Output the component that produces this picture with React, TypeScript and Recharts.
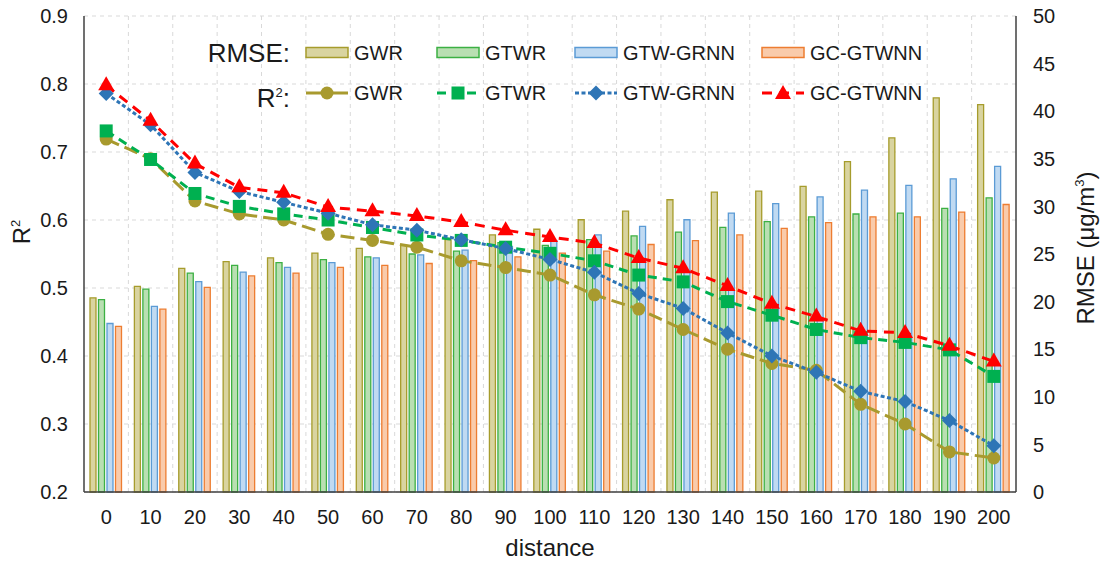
import React from 'react';
import { ComposedChart, Bar, Line, XAxis, YAxis, CartesianGrid } from 'recharts';

// distance thresholds on the x axis
const distances = ['0', '10', '20', '30', '40', '50', '60', '70', '80', '90', '100', '110', '120', '130', '140', '150', '160', '170', '180', '190', '200'];

// RMSE (μg/m³), right axis
const rmseGWR = [20.4, 21.6, 23.5, 24.2, 24.6, 25.1, 25.6, 25.9, 26.5, 27.0, 27.6, 28.6, 29.5, 30.7, 31.5, 31.6, 32.1, 34.7, 37.2, 41.4, 40.7];
const rmseGTWR = [20.2, 21.3, 23.0, 23.8, 24.1, 24.4, 24.7, 25.0, 25.3, 26.2, 25.9, 26.5, 26.9, 27.3, 27.8, 28.4, 28.9, 29.2, 29.3, 29.8, 30.9];
const rmseGTWGRNN = [17.7, 19.5, 22.1, 23.1, 23.6, 24.1, 24.6, 24.9, 25.4, 25.8, 26.4, 27.0, 27.9, 28.6, 29.3, 30.3, 31.0, 31.7, 32.2, 32.9, 34.2];
const rmseGCGTWNN = [17.4, 19.2, 21.5, 22.7, 23.0, 23.6, 23.8, 24.0, 24.3, 24.7, 25.1, 25.3, 26.0, 26.4, 27.0, 27.7, 28.3, 28.9, 28.9, 29.4, 30.2];

// R², left axis
const r2GWR = [0.719, 0.69, 0.628, 0.609, 0.6, 0.579, 0.57, 0.56, 0.54, 0.53, 0.519, 0.49, 0.469, 0.439, 0.41, 0.389, 0.379, 0.329, 0.3, 0.259, 0.25];
const r2GTWR = [0.731, 0.689, 0.639, 0.62, 0.609, 0.6, 0.589, 0.578, 0.57, 0.56, 0.551, 0.54, 0.519, 0.509, 0.48, 0.46, 0.439, 0.427, 0.42, 0.409, 0.37];
const r2GTWGRNN = [0.786, 0.74, 0.67, 0.642, 0.626, 0.61, 0.593, 0.585, 0.571, 0.558, 0.542, 0.523, 0.492, 0.47, 0.434, 0.4, 0.376, 0.348, 0.333, 0.305, 0.268];
const r2GCGTWNN = [0.798, 0.746, 0.683, 0.648, 0.64, 0.619, 0.613, 0.606, 0.597, 0.585, 0.575, 0.566, 0.544, 0.529, 0.503, 0.477, 0.458, 0.437, 0.434, 0.415, 0.392];

const r2Ticks = [0.2, 0.3, 0.4, 0.5, 0.6, 0.7, 0.8, 0.9];
const rmseTicks = [0, 5, 10, 15, 20, 25, 30, 35, 40, 45, 50];

const data = distances.map((d, i) => ({
  distance: d,
  rmseGWR: rmseGWR[i],
  rmseGTWR: rmseGTWR[i],
  rmseGTWGRNN: rmseGTWGRNN[i],
  rmseGCGTWNN: rmseGCGTWNN[i],
  r2GWR: r2GWR[i],
  r2GTWR: r2GTWR[i],
  r2GTWGRNN: r2GTWGRNN[i],
  r2GCGTWNN: r2GCGTWNN[i],
}));

const FONT = '"Liberation Sans", Arial, sans-serif';
const TEXT = '#1a1a1a';
const FRAME = '#404040';

const bars = [
  { key: 'rmseGWR', name: 'GWR', fill: '#d9d4a0', stroke: '#a69c2c' },
  { key: 'rmseGTWR', name: 'GTWR', fill: '#b9dfb2', stroke: '#3cb043' },
  { key: 'rmseGTWGRNN', name: 'GTW-GRNN', fill: '#c0daf2', stroke: '#5b9bd5' },
  { key: 'rmseGCGTWNN', name: 'GC-GTWNN', fill: '#f9cbab', stroke: '#ed7d31' },
];

const lines = [
  { key: 'r2GWR', name: 'GWR', color: '#a89a2e', dash: '14 6', shape: 'circle' },
  { key: 'r2GTWR', name: 'GTWR', color: '#00b050', dash: '9 6', shape: 'square' },
  { key: 'r2GTWGRNN', name: 'GTW-GRNN', color: '#2e75b6', dash: '4 2.5', shape: 'diamond' },
  { key: 'r2GCGTWNN', name: 'GC-GTWNN', color: '#ff0000', dash: '10 7', shape: 'triangle' },
];

function Marker({ shape, color, cx, cy }: { shape: string; color: string; cx: number; cy: number }) {
  if (shape === 'circle') return <circle cx={cx} cy={cy} r={6.5} fill={color} />;
  if (shape === 'square') return <rect x={cx - 6.5} y={cy - 6.5} width={13} height={13} fill={color} />;
  if (shape === 'diamond')
    return <polygon points={`${cx},${cy - 7.5} ${cx + 7.5},${cy} ${cx},${cy + 7.5} ${cx - 7.5},${cy}`} fill={color} />;
  return <polygon points={`${cx},${cy - 9} ${cx + 8},${cy + 5} ${cx - 8},${cy + 5}`} fill={color} />;
}

const makeDot = (shape: string, color: string) => (props: any) => {
  const { cx, cy, index } = props;
  if (cx == null || cy == null) return <g key={index} />;
  return <Marker key={index} shape={shape} color={color} cx={cx} cy={cy} />;
};

// vertical grid lines sit between category bands
const bandEdges = ({ offset }: any) => {
  const n = distances.length;
  const step = offset.width / n;
  const out: number[] = [];
  for (let i = 1; i < n; i++) out.push(offset.left + i * step);
  return out;
};

const legendCols = [305, 436, 574, 761];

function LegendRow({ top, title, children }: { top: number; title: React.ReactNode; children: React.ReactNode }) {
  return (
    <>
      <div style={{ position: 'absolute', top: top - 16, right: 1104 - 290, fontSize: 26, lineHeight: '32px', color: TEXT }}>{title}</div>
      {children}
    </>
  );
}

function Legend() {
  return (
    <div style={{ position: 'absolute', left: 0, top: 0, width: 1104, height: 120, fontFamily: FONT, pointerEvents: 'none' }}>
      <LegendRow top={53} title="RMSE:">
        {bars.map((b, i) => (
          <div key={b.key} style={{ position: 'absolute', left: legendCols[i], top: 41, height: 24, display: 'flex', alignItems: 'center' }}>
            <svg width={44} height={14}>
              <rect x={1} y={1.5} width={42} height={10} fill={b.fill} stroke={b.stroke} strokeWidth={1.5} />
            </svg>
            <span style={{ marginLeft: 5, fontSize: 20, color: TEXT }}>{b.name}</span>
          </div>
        ))}
      </LegendRow>
      <LegendRow top={93} title={<span>R<sup style={{ fontSize: 13, verticalAlign: '10px' }}>2</sup>:</span>}>
        {lines.map((l, i) => (
          <div key={l.key} style={{ position: 'absolute', left: legendCols[i], top: 81, height: 24, display: 'flex', alignItems: 'center' }}>
            <svg width={44} height={18}>
              <line x1={1} y1={9} x2={43} y2={9} stroke={l.color} strokeWidth={3} strokeDasharray={l.shape === 'circle' ? undefined : l.dash} />
              <Marker shape={l.shape} color={l.color} cx={22} cy={l.shape === 'triangle' ? 10 : 9} />
            </svg>
            <span style={{ marginLeft: 5, fontSize: 20, color: TEXT }}>{l.name}</span>
          </div>
        ))}
      </LegendRow>
    </div>
  );
}

export default function App() {
  const tick = { fontSize: 20, fill: TEXT, fontFamily: FONT };
  return (
    <div style={{ position: 'absolute', left: 0, top: 0, width: 1104, height: 562, background: '#fff', fontFamily: FONT }}>
      <ComposedChart width={1104} height={562} data={data} margin={{ top: 16, right: 0, bottom: 0, left: 0 }} barSize={6} barGap={2.5}>
        <CartesianGrid yAxisId="r2" stroke="#d9d9d9" strokeDasharray="4 4" verticalCoordinatesGenerator={bandEdges} />
        <XAxis dataKey="distance" height={70} tick={tick} tickLine={false} tickMargin={12} axisLine={{ stroke: FRAME, strokeWidth: 1.5 }} interval={0} />
        <XAxis xAxisId="top" dataKey="distance" orientation="top" height={0} tick={false} tickLine={false} axisLine={{ stroke: FRAME, strokeWidth: 1.5 }} />
        <YAxis
          yAxisId="r2"
          width={84}
          domain={[0.2, 0.9]}
          ticks={r2Ticks}
          tickFormatter={(v) => v.toFixed(1)}
          tick={tick}
          tickLine={false}
          tickMargin={10}
          axisLine={{ stroke: FRAME, strokeWidth: 1.5 }}
          allowDataOverflow
        />
        <YAxis
          yAxisId="rmse"
          orientation="right"
          width={88}
          domain={[0, 50]}
          ticks={rmseTicks}
          tick={tick}
          tickLine={false}
          tickMargin={11}
          axisLine={{ stroke: FRAME, strokeWidth: 1.5 }}
        />
        {bars.map((b) => (
          <Bar key={b.key} yAxisId="rmse" dataKey={b.key} name={b.name} fill={b.fill} stroke={b.stroke} strokeWidth={1.3} isAnimationActive={false} />
        ))}
        {lines.map((l) => (
          <Line
            key={l.key}
            yAxisId="r2"
            type="linear"
            dataKey={l.key}
            name={l.name}
            stroke={l.color}
            strokeWidth={3}
            strokeDasharray={l.dash}
            dot={makeDot(l.shape, l.color)}
            activeDot={false}
            isAnimationActive={false}
          />
        ))}
      </ComposedChart>
      <Legend />
      {/* axis titles */}
      <div style={{ position: 'absolute', left: 22, top: 232, transform: 'translate(-50%, -50%) rotate(-90deg)', fontSize: 24, color: TEXT, whiteSpace: 'nowrap' }}>
        R<sup style={{ fontSize: 13, verticalAlign: '10px' }}>2</sup>
      </div>
      <div style={{ position: 'absolute', left: 1086, top: 248, transform: 'translate(-50%, -50%) rotate(-90deg)', fontSize: 24, color: TEXT, whiteSpace: 'nowrap' }}>
        RMSE (μg/m<sup style={{ fontSize: 13, verticalAlign: '10px' }}>3</sup>)
      </div>
      <div style={{ position: 'absolute', left: 550, top: 548, transform: 'translate(-50%, -50%)', fontSize: 24, color: TEXT, whiteSpace: 'nowrap' }}>
        distance
      </div>
    </div>
  );
}
